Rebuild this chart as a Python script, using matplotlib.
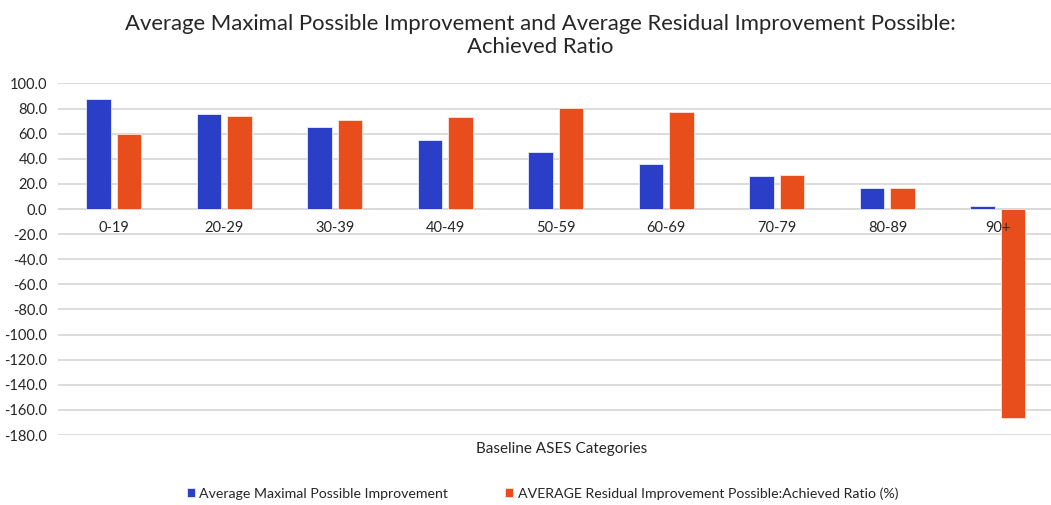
import matplotlib
matplotlib.use("Agg")
import matplotlib.pyplot as plt
import numpy as np

categories = ["0-19", "20-29", "30-39", "40-49", "50-59", "60-69", "70-79", "80-89", "90+"]
max_possible = [87.4, 75.9, 65.3, 55.2, 45.4, 35.6, 26.3, 17.0, 2.4]
residual_ratio = [60.0, 74.1, 70.9, 73.1, 80.7, 77.0, 27.3, 16.7, -166.8]
y_ticks = np.arange(-180, 101, 20)

blue = "#2a3ec8"
orange = "#e84e1b"
grid = "#d9d9d9"
text_c = "#262626"

plt.rcParams["font.family"] = ["Lato", "DejaVu Sans"]

fig = plt.figure(figsize=(10.51, 5.05), dpi=100)
ax = fig.add_axes([0.0556, 0.1386, 0.9444, 0.6961])

x = np.arange(len(categories))
w = 0.222
off = 0.138
ax.bar(x - off, max_possible, width=w, color=blue, edgecolor="#e8ebff", linewidth=0.6, zorder=3,
       label="Average Maximal Possible Improvement")
ax.bar(x + off, residual_ratio, width=w, color=orange, edgecolor="#ffe4da", linewidth=0.6, zorder=3,
       label="AVERAGE Residual Improvement Possible:Achieved Ratio (%)")

ax.set_ylim(-180, 100)
ax.set_xlim(-0.5, 8.48)
ax.set_yticks(y_ticks)
ax.set_yticklabels([f"{v:.1f}" for v in y_ticks], fontsize=10.5, color=text_c)
ax.tick_params(axis="y", length=0, pad=8)
ax.set_xticks([])
ax.grid(axis="y", color=grid, linewidth=1.3, zorder=0)
ax.axhline(0, color=grid, linewidth=1.3, zorder=1)
for s in ax.spines.values():
    s.set_visible(False)

# category labels sit just under the zero line
for i, c in enumerate(categories):
    ax.annotate(c, xy=(i, 0), xytext=(0, -14), textcoords="offset points",
                ha="center", va="center", fontsize=10.5, color=text_c, zorder=5)

fig.text(0.534, 0.111, "Baseline ASES Categories", ha="center", va="center", fontsize=11, color=text_c)

fig.text(0.514, 0.93, "Average Maximal Possible Improvement and Average Residual Improvement Possible:\nAchieved Ratio",
         ha="center", va="center", fontsize=15.9, color=text_c, linespacing=1.2)

fig.legend(loc="center", bbox_to_anchor=(0.516, 0.023), ncol=2, frameon=False, fontsize=10.2,
           handlelength=0.6, handleheight=0.6, handletextpad=0.3, columnspacing=4.0,
           labelcolor=text_c)

fig.savefig("out.png", dpi=100, facecolor="white")
